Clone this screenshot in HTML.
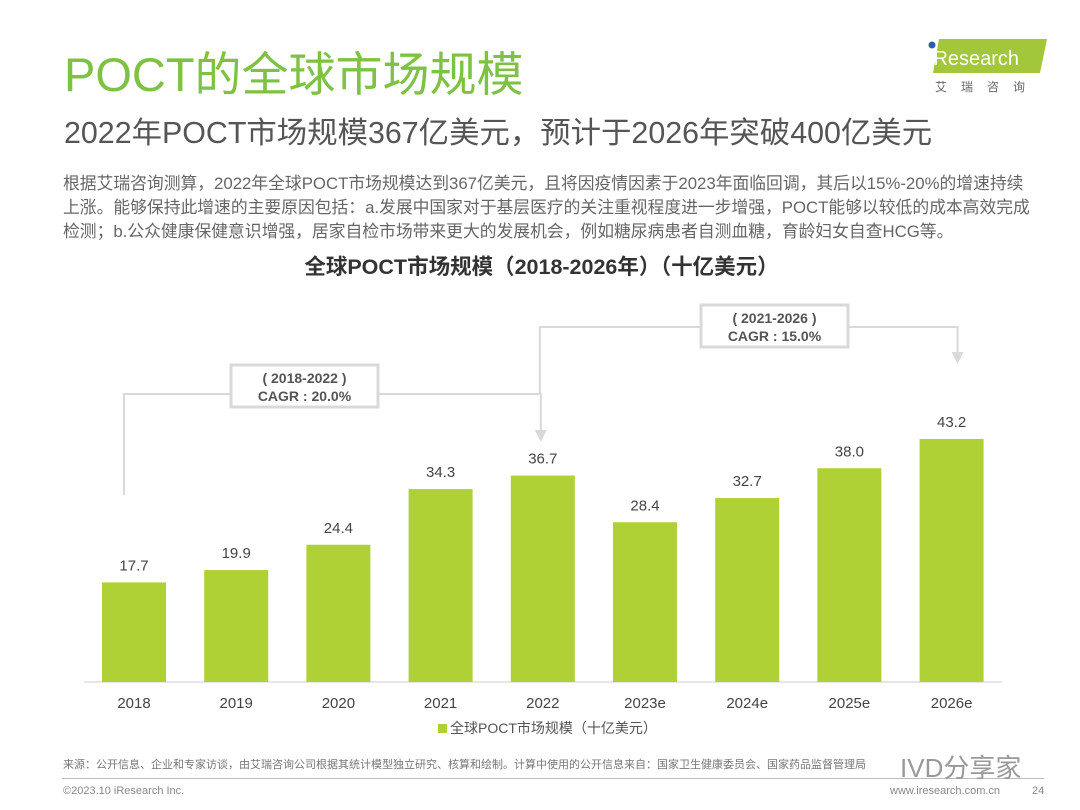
<!DOCTYPE html>
<html><head><meta charset="utf-8"><style>
body{margin:0;width:1080px;height:810px;background:#fff;position:relative;overflow:hidden;font-family:"Liberation Sans","Noto Sans CJK SC",sans-serif;}
.a{position:absolute;white-space:nowrap;}
</style></head><body>
<div class="a" style="left:64px;top:45px;font-size:47px;color:#7dc242;line-height:60px;">POCT的全球市场规模</div>
<div class="a" style="left:64px;top:113px;font-size:30.4px;color:#555;line-height:40px;">2022年POCT市场规模367亿美元，预计于2026年突破400亿美元</div>
<div class="a" style="left:63px;top:172px;font-size:16.8px;color:#666;line-height:24px;">根据艾瑞咨询测算，2022年全球POCT市场规模达到367亿美元，且将因疫情因素于2023年面临回调，其后以15%-20%的增速持续<br>上涨。能够保持此增速的主要原因包括：a.发展中国家对于基层医疗的关注重视程度进一步增强，POCT能够以较低的成本高效完成<br>检测；b.公众健康保健意识增强，居家自检市场带来更大的发展机会，例如糖尿病患者自测血糖，育龄妇女自查HCG等。</div>
<div class="a" style="left:925px;top:35px;width:122px;height:60px;">
<svg width="122" height="60"><polygon points="14,4 122,4 115,38 8,38" fill="#a3c73a"/><circle cx="7" cy="10" r="3.5" fill="#2b5fa8"/><text x="4" y="30" font-size="20" fill="#fff" font-family="Liberation Sans">iResearch</text><text x="10" y="56" font-size="12" fill="#666" letter-spacing="14" font-family="Noto Sans CJK SC">艾瑞咨询</text></svg></div>
<div class="a" style="left:0;width:1083px;text-align:center;top:250px;font-size:21.5px;font-weight:bold;color:#333;">全球POCT市场规模（2018-2026年）（十亿美元）</div>
<svg id="chart" class="a" style="left:0;top:0" width="1080" height="810"></svg>
<div class="a" style="left:438px;top:718px;font-size:14px;color:#555;"><span style="display:inline-block;width:9px;height:9px;background:#b0d136;margin-right:3px;"></span>全球POCT市场规模（十亿美元）</div>
<div class="a" style="left:62px;top:778px;width:982px;height:1px;background:#bbb;"></div>
<div class="a" style="left:63px;top:756px;font-size:11px;color:#777;">来源：公开信息、企业和专家访谈，由艾瑞咨询公司根据其统计模型独立研究、核算和绘制。计算中使用的公开信息来自：国家卫生健康委员会、国家药品监督管理局</div>
<div class="a" style="left:900px;top:748px;font-size:26px;color:#999;">IVD分享家</div>
<div class="a" style="left:63px;top:785px;font-size:11px;color:#888;">©2023.10 iResearch Inc.</div>
<div class="a" style="left:890px;top:785px;font-size:11px;color:#888;">www.iresearch.com.cn</div>
<div class="a" style="left:1032px;top:785px;font-size:11px;color:#888;">24</div>
<script>
const categories=["2018","2019","2020","2021","2022","2023e","2024e","2025e","2026e"];
const values=[17.7,19.9,24.4,34.3,36.7,28.4,32.7,38.0,43.2];
const labels=["17.7","19.9","24.4","34.3","36.7","28.4","32.7","38.0","43.2"];
const svg=document.getElementById('chart');const NS='http://www.w3.org/2000/svg';
const base=682,scale=5.625,x0=134,step=102.2,bw=64;
const xc=i=>x0+i*step, yv=v=>base-v*scale;
function mk(t,a,txt){const e=document.createElementNS(NS,t);for(const k in a)e.setAttribute(k,a[k]);if(txt!=null)e.textContent=txt;svg.appendChild(e);return e;}
let ax=mk('line',{x1:84,x2:1002,y1:base,y2:base,stroke:'#ccc'});


values.forEach((v,i)=>{
 let r=mk('rect',{x:xc(i)-bw/2,y:yv(v),width:bw,height:v*scale,fill:'#b0d136'});
 
 
 let t=mk('text',{x:xc(i),y:yv(v)-12,'text-anchor':'middle','font-size':15,fill:'#444','font-family':'Liberation Sans'},labels[i]);
 
 
 let c=mk('text',{x:xc(i),y:708,'text-anchor':'middle','font-size':15,fill:'#444','font-family':'Liberation Sans'},categories[i]);
 
 
});
const g='#d9d9d9';
const p1=mk('polyline',{points:`${xc(0)-10},495 ${xc(0)-10},394 ${xc(4)-2},394 ${xc(4)-2},432`,fill:'none',stroke:g,'stroke-width':2});


mk('polygon',{points:`${xc(4)-8},430 ${xc(4)+4},430 ${xc(4)-2},442`,fill:g});
const p2=mk('polyline',{points:`${xc(4)-3},394 ${xc(4)-3},327 ${xc(8)+6},327 ${xc(8)+6},352`,fill:'none',stroke:g,'stroke-width':2});


mk('polygon',{points:`${xc(8)},352 ${xc(8)+12},352 ${xc(8)+6},364`,fill:g});
function box(x,y,w,l1,l2,name){
 let r=mk('rect',{x:x,y:y,width:w,height:42,fill:'#fff',stroke:g,'stroke-width':3});
 
 
 mk('text',{x:x+w/2,y:y+18,'text-anchor':'middle','font-size':14,'font-weight':'bold',fill:'#555','font-family':'Liberation Sans'},l1);
 mk('text',{x:x+w/2,y:y+36,'text-anchor':'middle','font-size':14,'font-weight':'bold',fill:'#555','font-family':'Liberation Sans'},l2);
}
box(231,365,147,'( 2018-2022 )','CAGR : 20.0%','cagr-box-2018-2022');
box(701,305,147,'( 2021-2026 )','CAGR : 15.0%','cagr-box-2021-2026');
</script>
</body></html>
